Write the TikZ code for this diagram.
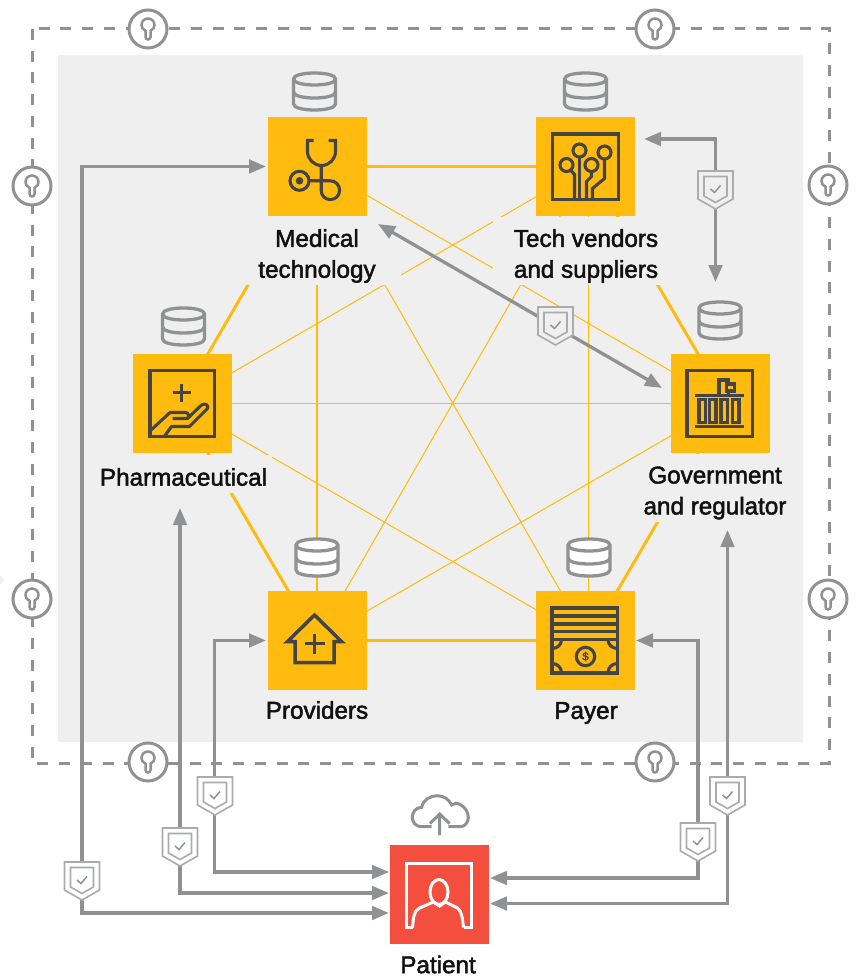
\documentclass[tikz,border=0pt]{standalone}
\usepackage{fontspec}
\usepackage{xcolor}
\usepackage{tikz}
\usetikzlibrary{arrows.meta}
\newfontfamily\labfont[FakeBold=2]{Liberation Sans}
\definecolor{panelbg}{HTML}{EFEFEF}
\definecolor{gold}{HTML}{FFBC0F}
\definecolor{redbox}{HTML}{F44E3F}
\definecolor{wire}{HTML}{8F9193}
\definecolor{shieldgray}{HTML}{A9ABAD}
\definecolor{ink}{HTML}{444444}
\definecolor{labink}{HTML}{111111}
\tikzset{
  hexside/.style={draw=gold, line width=0.06cm},
  hexdiag/.style={draw=gold, line width=0.021cm},
  flow/.style={draw=wire, line width=0.066cm, <->, >={Triangle[length=0.34cm,width=0.27cm]}},
  fence/.style={draw=wire, line width=0.06cm, dash pattern=on 0.22cm off 0.215cm},
  tile/.style={fill=gold, minimum size=1.98cm, inner sep=0pt},
  icon/.style={draw=ink, line width=0.062cm, line join=miter},
  patline/.style={draw=white, line width=0.06cm},
  lab/.style={text=labink, font=\labfont\fontsize{13.8}{17.6}\selectfont, align=center, inner sep=0pt},
  dbline/.style={draw=wire, line width=0.066cm},
  lockring/.style={circle, draw=wire, line width=0.06cm, fill=white, minimum size=0.76cm, inner sep=0pt},
  lockline/.style={draw=wire, line width=0.05cm},
  shieldline/.style={draw=shieldgray, line width=0.032cm},
}
\newcommand{\dbstack}[3]{%
  \begin{scope}[shift={(#1,#2)}]
    \filldraw[dbline, fill=#3] (-21,6) -- (-21,31) .. controls (-21,39) and (21,39) .. (21,31) -- (21,6) .. controls (21,-2) and (-21,-2) .. (-21,6) -- cycle;
    \draw[dbline] (-21,6) .. controls (-21,14) and (21,14) .. (21,6);
    \draw[dbline] (-21,19) .. controls (-21,27) and (21,27) .. (21,19);
  \end{scope}}
\newcommand{\shieldmark}[3]{%
  \begin{scope}[shift={(#1,#2)}]
    \filldraw[shieldline, fill=#3] (-17.5,0) -- (17.5,0) -- (17.5,28) -- (0,38) -- (-17.5,28) -- cycle;
    \draw[shieldline] (-11.5,5.5) -- (11.5,5.5) -- (11.5,25) -- (0,31.5) -- (-11.5,25) -- cycle;
    \draw[draw=wire, line width=0.03cm] (-5,18) -- (-1,21.5) -- (5,14.5);
  \end{scope}}
\begin{document}
\begin{tikzpicture}[x=0.02cm,y=-0.02cm]
  \useasboundingbox (0,0) rectangle (857,976);
  \fill[panelbg] (0,575) -- (4,580) -- (0,585) -- cycle;
  \fill[panelbg] (58,55) rectangle (803,742);
  \draw[fence] (32,29) rectangle (829,763);

  % hexagon corners
  \coordinate (med) at (317,166.5);
  \coordinate (tech) at (588.5,166.5);
  \coordinate (gov) at (727,403.5);
  \coordinate (pay) at (588.5,640);
  \coordinate (prov) at (317,640);
  \coordinate (pharm) at (179,403.5);

  \foreach \a/\b in {med/tech,tech/gov,gov/pay,pay/prov,prov/pharm,pharm/med}
    \draw[hexside] (\a)--(\b);
  \foreach \a/\b in {med/gov,med/pay,med/prov,tech/pharm,tech/prov,tech/pay,pharm/gov,pharm/pay,prov/gov}
    \draw[hexdiag] (\a)--(\b);

  % label backings
  \fill[panelbg] (233,215) rectangle (401,285);
  \fill[panelbg] (493,217) rectangle (680,285);
  \fill[panelbg] (95,455) rectangle (272,493);
  \fill[panelbg] (645,454) rectangle (790,522);

  \node[lab] (medlab) at (317,256) {Medical\\technology};
  \node[lab] (techlab) at (586,256) {Tech vendors\\and suppliers};
  \node[lab] (pharmlab) at (183.5,477) {Pharmaceutical};
  \node[lab] (govlab) at (715,493) {Government\\and regulator};
  \node[lab] (provlab) at (317,710) {Providers};
  \node[lab] (paylab) at (586,713) {Payer};
  \node[lab] (patlab) at (438,964.5) {Patient};

  \dbstack{314.5}{73}{panelbg}
  \dbstack{585.5}{73}{panelbg}
  \dbstack{183.5}{308}{panelbg}
  \dbstack{720}{302}{panelbg}
  \dbstack{317}{539}{white}
  \dbstack{589}{539}{white}

  \node[tile] (medbox) at (317.5,166.5) {};
  \node[tile] (techbox) at (585.5,166.5) {};
  \node[tile] (pharmbox) at (182.5,403.5) {};
  \node[tile] (govbox) at (720.5,403.5) {};
  \node[tile] (provbox) at (317.5,640.5) {};
  \node[tile] (paybox) at (585.5,640.5) {};
  \node[tile, fill=redbox] (patbox) at (439.5,894) {};

  % stethoscope
  \begin{scope}[shift={(medbox.center)}]
    \draw[icon] (-4,-26) -- (-10,-26) -- (-10,-15) .. controls (-10,-7.3) and (-3.7,-1) .. (4,-1) .. controls (11.7,-1) and (18,-7.3) .. (18,-15) -- (18,-26) -- (11,-26);
    \draw[icon] (-8,14.3) -- (12.7,14.3) .. controls (18,14.3) and (22.1,18.5) .. (22.1,23.7) .. controls (22.1,29) and (18,33.1) .. (12.7,33.1) .. controls (7.5,33.1) and (3.7,29) .. (3.7,23.7) -- (3.7,-1);
    \draw[icon] (-18,14.3) circle (9.5);
    \fill[ink] (-18,14.3) circle (3.8);
  \end{scope}
  % circuit board
  \begin{scope}[shift={(techbox.center)}]
    \draw[icon] (-33,-32.5) rectangle (33,33);
    \draw[icon] (-6,-16) circle (6.5) (-19,-1.5) circle (6.5) (6,-1.5) circle (6.5) (19,-14) circle (6.5);
    \draw[icon] (-6,-9.5) -- (-6,33);
    \draw[icon] (-15,3.5) -- (-11,8) -- (-11,33);
    \draw[icon] (6,5) -- (6,10) -- (1,15) -- (1,33);
    \draw[icon] (19,-7.5) -- (19,12) -- (7,22) -- (7,33);
  \end{scope}
  % hand and plus
  \begin{scope}[shift={(pharmbox.center)}]
    \draw[icon] (-32.5,-33) rectangle (32,33);
    \draw[icon] (-10,-11) -- (8,-11) (-1,-20) -- (-1,-2);
    \draw[icon, line join=round] (-32,27) -- (-12.5,9) -- (3,9) .. controls (6,9) and (7,13) .. (5,15) -- (-10,15);
    \draw[icon, line join=round] (5,15) -- (19,1.5) .. controls (22,-1) and (27,2) .. (25,5) -- (7,23) -- (-11,23) -- (-17.5,32);
  \end{scope}
  % government building
  \begin{scope}[shift={(govbox.center)}]
    \draw[icon] (-33.5,-33) rectangle (32,33);
    \draw[icon] (-25.5,-8) -- (23.5,-8) (-25.5,23) -- (23.5,23);
    \foreach \cl/\cr in {-21.5/-15,-11/-4.5,0.5/7,12/18.5}
      \draw[icon] (\cl,-4) rectangle (\cr,19);
    \draw[icon] (-1.5,-8) -- (-1.5,-23.5) -- (8,-23.5) -- (8,-19.5);
    \draw[icon] (6,-19.5) rectangle (14,-12.5) (8,-12.5) -- (8,-8);
  \end{scope}
  % house
  \begin{scope}[shift={(provbox.center)}]
    \draw[icon, line width=0.07cm] (-22.5,1) -- (-30,1) -- (-3,-25.5) -- (24,1) -- (16.5,1) -- (16.5,22) -- (-22.5,22) -- cycle;
    \draw[icon, line width=0.07cm] (-13,3) -- (7,3) (-3,-7) -- (-3,13);
  \end{scope}
  % bill and stripes
  \begin{scope}[shift={(paybox.center)}]
    \draw[icon] (-33.5,-32.5) rectangle (32,32.5);
    \foreach \sy in {-24.5,-16.5,-9,-1}
      \draw[icon] (-33.5,\sy) -- (32,\sy);
    \draw[icon] (-33.5,8) .. controls (-28,8) and (-24,4) .. (-24,-1);
    \draw[icon] (32,8) .. controls (26.5,8) and (22.5,4) .. (22.5,-1);
    \draw[icon] (-33.5,23) .. controls (-28,23) and (-24,27) .. (-24,32.5);
    \draw[icon] (32,23) .. controls (26.5,23) and (22.5,27) .. (22.5,32.5);
    \draw[icon] (0,16) circle (9.2);
    \node[text=ink, font=\labfont\fontsize{6.5}{7}\selectfont, inner sep=0pt] (paydollar) at (0,16) {\$};
  \end{scope}
  % person
  \begin{scope}[shift={(patbox.center)}]
    \draw[patline] (-27,33.5) -- (-33.5,33.5) -- (-33.5,-31) -- (31.5,-31) -- (31.5,33.5) -- (24,33.5);
    \draw[patline] (-27,33.5) .. controls (-26,24) and (-26,17) .. (-20,14) -- (-6,8) -- (0,12) -- (6,8) -- (18,14) .. controls (22,17) and (23,24) .. (24,33.5);
    \draw[patline] (-0.5,-2) ellipse [x radius=9, y radius=12.5];
  \end{scope}

  % cloud upload
  \draw[draw=wire, line width=0.06cm] (431.7,826.7) -- (421.7,826.7) .. controls (416,826.7) and (412.3,822.5) .. (412.3,817.3) .. controls (412.3,812) and (416,807.3) .. (421.7,807.3) .. controls (423,800) and (430,795.7) .. (437.3,795.7) .. controls (444,795.7) and (449,799.5) .. (451.7,805) .. controls (454,803) and (457,802.5) .. (460,804.5) .. controls (465,807) and (468.3,812) .. (468.3,817.3) .. controls (468.3,822.5) and (465,826.7) .. (460,826.7) -- (448.3,826.7);
  \draw[draw=wire, line width=0.06cm] (439.7,835) -- (439.7,814) (430,823.5) -- (439.7,814) -- (449.5,823.5);

  % ends of the flows
  \coordinate (medin) at (266,166.5);
  \coordinate (techin) at (644,139);
  \coordinate (techgov) at (715.5,282);
  \coordinate (medgov) at (378,224);
  \coordinate (govmed) at (662,388);
  \coordinate (pharmin) at (180,508);
  \coordinate (provin) at (266,640.5);
  \coordinate (payin) at (636,640.5);
  \coordinate (govin) at (727.5,530);
  \coordinate (patw1) at (389,913);
  \coordinate (patw2) at (389,893);
  \coordinate (patw3) at (389,872);
  \coordinate (pate1) at (490,878);
  \coordinate (pate2) at (490,903.5);

  \draw[flow] (patw1) -- (82,913) -- (82,166.5) -- (medin);
  \draw[flow] (patw2) -- (180,893) -- (pharmin);
  \draw[flow] (patw3) -- (214.5,872) -- (214.5,640.5) -- (provin);
  \draw[flow] (pate1) -- (698,878) -- (698,640.5) -- (payin);
  \draw[flow] (pate2) -- (727.5,903.5) -- (govin);
  \draw[flow] (techin) -- (715.5,139) -- (techgov);
  \draw[flow] (medgov) -- (govmed);

  \shieldmark{82}{862}{white}
  \shieldmark{180}{828}{white}
  \shieldmark{215}{777}{white}
  \shieldmark{698}{823}{white}
  \shieldmark{727.5}{777}{white}
  \shieldmark{715.5}{171}{panelbg}
  \shieldmark{555.5}{307}{panelbg}

  % keyholes on the fence
  \foreach \lx/\ly/\lk in {148/29/locka,655/29/lockb,32/186/lockc,828/185/lockd,32/599/locke,828/599/lockf,148/762/lockg,655/762/lockh}{
    \node[lockring] (\lk) at (\lx,\ly) {};
    \draw[lockline, shift={(\lx,\ly)}] (-2.5,1.8) .. controls (-5.5,0.5) and (-6.5,-2) .. (-6.5,-4) .. controls (-6.5,-7.6) and (-3.6,-10.5) .. (0,-10.5) .. controls (3.6,-10.5) and (6.5,-7.6) .. (6.5,-4) .. controls (6.5,-2) and (5.5,0.5) .. (2.5,1.8) -- (2.5,8) .. controls (2.5,11.3) and (-2.5,11.3) .. (-2.5,8) -- cycle;
  }
\end{tikzpicture}
\end{document}
